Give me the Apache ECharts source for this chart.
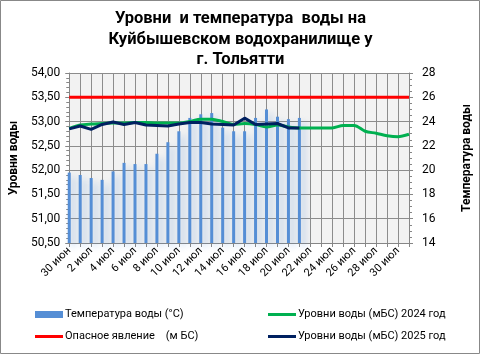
<!DOCTYPE html>
<html>
<head>
<meta charset="utf-8">
<script src="https://cdn.jsdelivr.net/npm/echarts@6/dist/echarts.min.js"></script>
<style>
html,body{margin:0;padding:0;background:#fff;}
#c{width:481px;height:355px;}
</style>
</head>
<body>
<div id="c"></div>
<script>
const categories = ['30 июн','1 июл','2 июл','3 июл','4 июл','5 июл','6 июл','7 июл','8 июл','9 июл','10 июл','11 июл','12 июл','13 июл','14 июл','15 июл','16 июл','17 июл','18 июл','19 июл','20 июл','21 июл','22 июл','23 июл','24 июл','25 июл','26 июл','27 июл','28 июл','29 июл','30 июл','31 июл'];
const waterTemp = [19.8, 19.6, 19.35, 19.2, 19.9, 20.6, 20.5, 20.5, 21.35, 22.3, 23.2, 24.3, 24.6, 24.7, 23.5, 23.2, 23.2, 24.3, 25.0, 24.4, 24.2, 24.3];
const level2025 = [52.85, 52.91, 52.84, 52.94, 52.99, 52.94, 52.98, 52.93, 52.92, 52.91, 52.95, 52.98, 52.98, 52.95, 52.94, 52.93, 53.07, 52.94, 52.95, 52.96, 52.87, 52.87];
const level2024 = [52.86, 52.93, 52.95, 52.96, 52.97, 52.97, 52.98, 52.98, 52.97, 52.97, 52.97, 53.0, 53.05, 53.05, 53.0, 52.94, 52.96, 52.94, 52.89, 52.93, 52.89, 52.87, 52.87, 52.87, 52.87, 52.92, 52.92, 52.80, 52.76, 52.71, 52.69, 52.74];
const dangerLevel = [53.5, 53.5, 53.5, 53.5, 53.5, 53.5, 53.5, 53.5, 53.5, 53.5, 53.5, 53.5, 53.5, 53.5, 53.5, 53.5, 53.5, 53.5, 53.5, 53.5, 53.5, 53.5, 53.5, 53.5, 53.5, 53.5, 53.5, 53.5, 53.5, 53.5, 53.5, 53.5];
const leftTicks = {min: 50.5, max: 54, interval: 0.5};
const rightTicks = {min: 14, max: 28, interval: 2};

const nTemp = 'Температура воды (°С)';
const nDanger = 'Опасное явление    (м БС)';
const n2024 = 'Уровни воды (мБС) 2024 год';
const n2025 = 'Уровни воды (мБС) 2025 год';

const FONT = 'Roboto, "Liberation Sans", sans-serif';
const chart = echarts.init(document.getElementById('c'), null, {renderer: 'canvas'});
const legendText = {color: '#000', fontSize: 11, fontFamily: FONT, padding: [0, 0, 0, -3]};
function lg(name, left, top, h) {
  return {data: [name], left: left, top: top, itemWidth: 28, itemHeight: h, icon: 'rect', itemGap: 2,
    textStyle: legendText, selectedMode: false, padding: 0};
}
chart.setOption({
  animation: false,
  textStyle: {fontFamily: FONT},
  graphic: [{type: 'rect', shape: {x: 0.5, y: 0.5, width: 479, height: 353}, style: {fill: null, stroke: '#888', lineWidth: 1}, silent: true}],
  title: {
    text: 'Уровни  и температура  воды на\nКуйбышевском водохранилище у\nг. Тольятти',
    left: 'center', top: 4,
    textStyle: {fontSize: 16.5, fontWeight: 'bold', color: '#000', lineHeight: 20.5, fontFamily: FONT}
  },
  legend: [
    lg(nTemp, 35, 309, 7),
    lg(nDanger, 35, 331, 3),
    lg(n2024, 268, 309, 3),
    lg(n2025, 268, 331, 3)
  ],
  grid: {left: 67, right: 70, top: 73, bottom: 112, show: true, backgroundColor: '#F2F2F2', borderWidth: 0},
  xAxis: {
    type: 'category', data: categories, boundaryGap: false,
    axisLine: {lineStyle: {color: '#868686'}},
    axisTick: {show: true, interval: 0, length: 4, lineStyle: {color: '#868686'}},
    splitLine: {show: true, interval: 0, lineStyle: {color: '#8c8c8c', width: 1}},
    axisLabel: {interval: 1, rotate: 45, fontSize: 11, color: '#000', margin: 6, fontFamily: FONT}
  },
  yAxis: [
    {
      type: 'value', min: leftTicks.min, max: leftTicks.max, interval: leftTicks.interval,
      name: 'Уровни воды', nameLocation: 'middle', nameRotate: 90, nameGap: 48,
      nameTextStyle: {fontSize: 12, fontWeight: 'bold', color: '#000', fontFamily: FONT},
      axisLine: {show: true, lineStyle: {color: '#868686'}},
      axisTick: {show: true, length: 4, lineStyle: {color: '#868686'}},
      minorTick: {show: true, splitNumber: 5, length: 3, lineStyle: {color: '#868686'}},
      splitLine: {show: true, lineStyle: {color: '#8c8c8c'}},
      axisLabel: {fontSize: 12, color: '#000', margin: 9, fontFamily: FONT,
        formatter: v => v.toFixed(2).replace('.', ',')}
    },
    {
      type: 'value', min: rightTicks.min, max: rightTicks.max, interval: rightTicks.interval,
      position: 'right',
      name: 'Температура воды', nameLocation: 'middle', nameRotate: 90, nameGap: 52,
      nameTextStyle: {fontSize: 12, fontWeight: 'bold', color: '#000', fontFamily: FONT},
      axisLine: {show: true, lineStyle: {color: '#868686'}},
      axisTick: {show: true, length: 4, lineStyle: {color: '#868686'}},
      minorTick: {show: true, splitNumber: 4, length: 3, lineStyle: {color: '#868686'}},
      splitLine: {show: false},
      axisLabel: {fontSize: 12, color: '#000', margin: 13, fontFamily: FONT}
    }
  ],
  series: [
    {
      name: nTemp, type: 'bar', yAxisIndex: 1, data: waterTemp, barWidth: 3, z: 1,
      itemStyle: {color: '#558ED5', shadowColor: 'rgba(85,142,213,0.4)', shadowBlur: 6, shadowOffsetX: 4, shadowOffsetY: 4}
    },
    {
      name: n2024, type: 'line', yAxisIndex: 0, data: level2024, smooth: 0.3, showSymbol: false, symbol: 'none', z: 3,
      lineStyle: {color: '#00B050', width: 3}, itemStyle: {color: '#00B050'}
    },
    {
      name: n2025, type: 'line', yAxisIndex: 0, data: level2025, showSymbol: false, symbol: 'none', z: 4,
      lineStyle: {color: '#002060', width: 3}, itemStyle: {color: '#002060'}
    },
    {
      name: nDanger, type: 'line', yAxisIndex: 0, data: dangerLevel, showSymbol: false, symbol: 'none', z: 5,
      lineStyle: {color: '#FF0000', width: 3}, itemStyle: {color: '#FF0000'}
    }
  ]
});
</script>
</body>
</html>
